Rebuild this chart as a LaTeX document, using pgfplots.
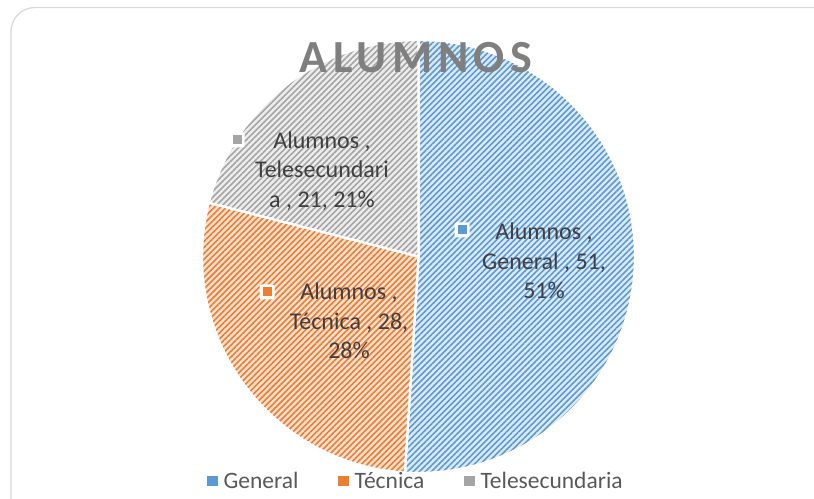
\documentclass[border=0pt]{standalone}
\usepackage{pgfplots}
\pgfplotsset{compat=1.18}
\usepackage{pgfplotstable}
\usepackage{fontspec}
\setmainfont{Carlito}
\usetikzlibrary{patterns.meta}

\definecolor{cBlue}{HTML}{5B9BD5}
\definecolor{cBlueL}{HTML}{DCE9F6}
\definecolor{cOrange}{HTML}{ED7D31}
\definecolor{cOrangeL}{HTML}{FBE1D1}
\definecolor{cGray}{HTML}{A5A5A5}
\definecolor{cGrayL}{HTML}{EDEDED}
\definecolor{cText}{HTML}{404040}
\definecolor{cLeg}{HTML}{595959}
\definecolor{cTitle}{HTML}{7F7F7F}
\definecolor{cBorder}{HTML}{D9D9D9}

\pgfplotstableread{
idx value
0 51
1 28
2 21
}\piedata
\pgfplotstablegetelem{0}{value}\of\piedata \let\vA\pgfplotsretval
\pgfplotstablegetelem{1}{value}\of\piedata \let\vB\pgfplotsretval
\pgfplotstablegetelem{2}{value}\of\piedata \let\vC\pgfplotsretval
\pgfmathsetmacro{\total}{\vA+\vB+\vC}
\pgfmathsetmacro{\aA}{90-360*(\vA/\total)}
\pgfmathsetmacro{\aB}{\aA-360*(\vB/\total)}
\pgfmathsetmacro{\aC}{\aB-360*(\vC/\total)}
\def\cx{418.5}
\def\cy{242.5}
\def\R{216.5}
\tikzset{lbl/.style={align=center, text=cText, font=\fontsize{24bp}{29.5bp}\selectfont, inner sep=0pt},
  keyout/.style={fill=white, minimum size=15bp, inner sep=0pt, rounded corners=2bp},
  keyin/.style={fill=#1, minimum size=9bp, inner sep=0pt}}

\begin{document}%
\begin{tikzpicture}
\useasboundingbox (0,0) rectangle (814bp,499bp);
\begin{axis}[
  at={(0,0)}, anchor=south west,
  scale only axis, width=814bp, height=499bp,
  xmin=0, xmax=814, ymin=0, ymax=499,
  hide axis,
  legend columns=3,
  legend style={at={(axis cs:416,18)}, anchor=center, draw=none, fill=none,
    font=\fontsize{23.5bp}{28bp}\selectfont, text=cLeg,
    /tikz/every odd column/.append style={column sep=0bp},
    /tikz/every even column/.append style={column sep=38bp},
    inner sep=0pt},
  legend cell align=left,
]
\draw[cBorder, line width=1.3bp, rounded corners=24bp] (axis cs:11,491.5) rectangle (axis cs:870,-40);

\addplot[preaction={fill=cBlueL}, pattern={Lines[angle=45,distance=4.2bp,line width=1.6bp]}, pattern color=cBlue,
  draw=white, line width=2.2bp, domain=\aA:90, samples=150,
  legend image code/.code={\fill[cBlue] (0bp,-4bp) rectangle (8bp,4bp); \path (12bp,0bp);}]
  ({\cx+\R*cos(x)}, {\cy+\R*sin(x)}) -- (axis cs:\cx,\cy) -- cycle;
\addlegendentry{General}
\addplot[preaction={fill=cOrangeL}, pattern={Lines[angle=45,distance=4.2bp,line width=1.6bp]}, pattern color=cOrange,
  draw=white, line width=2.2bp, domain=\aB:\aA, samples=100,
  legend image code/.code={\fill[cOrange] (0bp,-4bp) rectangle (8bp,4bp); \path (12bp,0bp);}]
  ({\cx+\R*cos(x)}, {\cy+\R*sin(x)}) -- (axis cs:\cx,\cy) -- cycle;
\addlegendentry{Técnica}
\addplot[preaction={fill=cGrayL}, pattern={Lines[angle=45,distance=4.2bp,line width=1.6bp]}, pattern color=cGray,
  draw=white, line width=2.2bp, domain=\aC:\aB, samples=80,
  legend image code/.code={\fill[cGray] (0bp,-4bp) rectangle (8bp,4bp); \path (12bp,0bp);}]
  ({\cx+\R*cos(x)}, {\cy+\R*sin(x)}) -- (axis cs:\cx,\cy) -- cycle;
\addlegendentry{Telesecundaria}

% title
\node[anchor=base, text=cTitle, font=\fontsize{46bp}{50bp}\selectfont\bfseries\addfontfeatures{LetterSpace=12}]
  at (axis cs:416,426) {ALUMNOS};

% data labels
\node[lbl] at (axis cs:544,238) {Alumnos ,\\General , 51,\\51\%};
\node[lbl] at (axis cs:349,178) {Alumnos ,\\Técnica , 28,\\28\%};
\node[lbl] at (axis cs:322,328) {Alumnos ,\\Telesecundari\\a , 21, 21\%};

% label keys
\node[keyout] at (axis cs:462,269) {};
\node[keyin=cBlue] at (axis cs:462,269) {};
\node[keyout] at (axis cs:267,207) {};
\node[keyin=cOrange] at (axis cs:267,207) {};
\node[keyout] at (axis cs:237,359) {};
\node[keyin=cGray] at (axis cs:237,359) {};
\end{axis}
\end{tikzpicture}%
\end{document}
